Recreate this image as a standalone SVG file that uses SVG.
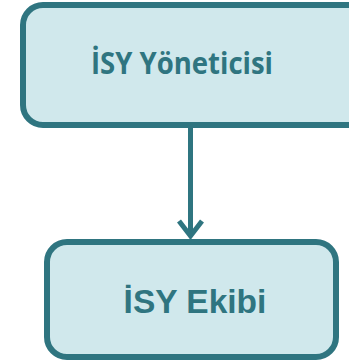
<svg xmlns="http://www.w3.org/2000/svg" width="349" height="364" viewBox="0 0 349 364">
  <defs>
    <style>
      .box { fill: #d0e8ec; stroke: #2f7580; stroke-width: 6; }
      .edge { fill: none; stroke: #2f7580; stroke-width: 5; }
      .lbl { fill: #2f7580; font-weight: bold; text-anchor: middle; }
      .sans-a { font-family: "Open Sans", "Noto Sans", sans-serif; font-size: 29.5px; }
      .sans-b { font-family: "Liberation Sans", Arial, sans-serif; font-size: 33.5px; }
    </style>
  </defs>

  <!-- connector: manager down to team -->
  <g id="connectors">
    <line class="edge" x1="190.5" y1="128" x2="190.5" y2="236"/>
    <polyline class="edge" points="179,221 190.5,236 202,221" stroke-linejoin="miter"/>
  </g>

  <g id="node-yonetici">
    <rect class="box" x="23" y="5" width="345" height="120" rx="20" ry="20"/>
    <text class="lbl sans-a" x="182" y="74" textLength="182" lengthAdjust="spacingAndGlyphs">İSY Yöneticisi</text>
  </g>

  <g id="node-ekip">
    <rect class="box" x="47" y="242" width="289" height="115" rx="20" ry="20"/>
    <text class="lbl sans-b" x="195" y="313">İSY Ekibi</text>
  </g>
</svg>
